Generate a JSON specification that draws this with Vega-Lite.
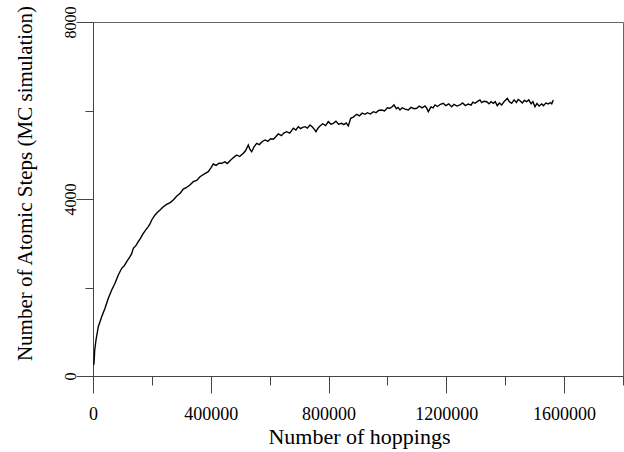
{
  "$schema": "https://vega.github.io/schema/vega-lite/v6.json",
  "width": 530,
  "height": 354,
  "autosize": {"type": "none"},
  "padding": {"left": 93, "top": 22, "right": 1, "bottom": 76},
  "background": "white",
  "config": {
    "view": {"stroke": "#666", "strokeWidth": 1},
    "font": "Liberation Serif"
  },
  "data": {
    "values": [
      {"h":2000,"s":250},{"h":3400,"s":290},{"h":5800,"s":588},{"h":10200,"s":814},{"h":18000,"s":1114},{"h":29500,"s":1340},{"h":40800,"s":1530},{"h":52000,"s":1756},{"h":63500,"s":1944},{"h":74700,"s":2095},{"h":85900,"s":2283},{"h":97500,"s":2434},{"h":106000,"s":2490},{"h":114500,"s":2583},{"h":125700,"s":2696},{"h":131000,"s":2760},{"h":136900,"s":2886},{"h":145000,"s":2940},{"h":153800,"s":3035},{"h":162000,"s":3120},{"h":170800,"s":3225},{"h":178000,"s":3290},{"h":187800,"s":3374},{"h":193000,"s":3430},{"h":199400,"s":3526},{"h":210600,"s":3639},{"h":219000,"s":3700},{"h":227500,"s":3752},{"h":238800,"s":3826},{"h":250000,"s":3880},{"h":262000,"s":3920},{"h":272700,"s":3978},{"h":284000,"s":4060},{"h":296000,"s":4130},{"h":306700,"s":4226},{"h":318000,"s":4260},{"h":330000,"s":4320},{"h":340600,"s":4391},{"h":352000,"s":4420},{"h":363400,"s":4504},{"h":377000,"s":4560},{"h":391600,"s":4617},{"h":400000,"s":4700},{"h":408600,"s":4791},{"h":418000,"s":4760},{"h":428000,"s":4810},{"h":437100,"s":4807},{"h":448000,"s":4840},{"h":456000,"s":4800},{"h":465300,"s":4866},{"h":476000,"s":4930},{"h":488000,"s":4995},{"h":498000,"s":4960},{"h":510500,"s":5033},{"h":518000,"s":5090},{"h":527400,"s":5221},{"h":533000,"s":5120},{"h":539000,"s":5069},{"h":547000,"s":5180},{"h":556000,"s":5259},{"h":565000,"s":5230},{"h":575000,"s":5300},{"h":584200,"s":5334},{"h":594000,"s":5300},{"h":603000,"s":5360},{"h":612300,"s":5349},{"h":620000,"s":5400},{"h":629300,"s":5469},{"h":640000,"s":5430},{"h":648000,"s":5490},{"h":657800,"s":5521},{"h":668000,"s":5490},{"h":680300,"s":5598},{"h":689000,"s":5560},{"h":697300,"s":5634},{"h":705000,"s":5590},{"h":712000,"s":5620},{"h":720000,"s":5634},{"h":728000,"s":5600},{"h":737000,"s":5673},{"h":746000,"s":5620},{"h":751000,"s":5580},{"h":757400,"s":5521},{"h":764000,"s":5600},{"h":770900,"s":5650},{"h":780000,"s":5700},{"h":790000,"s":5660},{"h":799100,"s":5747},{"h":808000,"s":5690},{"h":816100,"s":5711},{"h":825000,"s":5760},{"h":834000,"s":5690},{"h":844600,"s":5711},{"h":852000,"s":5680},{"h":860000,"s":5720},{"h":867000,"s":5650},{"h":875200,"s":5824},{"h":884000,"s":5850},{"h":895600,"s":5914},{"h":905000,"s":5880},{"h":914000,"s":5940},{"h":923800,"s":5914},{"h":932000,"s":5950},{"h":942000,"s":5920},{"h":952000,"s":5973},{"h":961000,"s":5950},{"h":970000,"s":6000},{"h":980500,"s":6012},{"h":990000,"s":5990},{"h":1000000,"s":6060},{"h":1008700,"s":6050},{"h":1015000,"s":6080},{"h":1022300,"s":6125},{"h":1030000,"s":6040},{"h":1036000,"s":6070},{"h":1042600,"s":6012},{"h":1050000,"s":6060},{"h":1060000,"s":6030},{"h":1070800,"s":6012},{"h":1080000,"s":6070},{"h":1090000,"s":6040},{"h":1099400,"s":6050},{"h":1108000,"s":6100},{"h":1118000,"s":6060},{"h":1127500,"s":6102},{"h":1133000,"s":6060},{"h":1138800,"s":5973},{"h":1148000,"s":6080},{"h":1155000,"s":6060},{"h":1161500,"s":6125},{"h":1170000,"s":6090},{"h":1180000,"s":6140},{"h":1189700,"s":6163},{"h":1198000,"s":6110},{"h":1208000,"s":6150},{"h":1218200,"s":6086},{"h":1226000,"s":6140},{"h":1236000,"s":6100},{"h":1246400,"s":6125},{"h":1255000,"s":6170},{"h":1265000,"s":6110},{"h":1274600,"s":6147},{"h":1284000,"s":6120},{"h":1290000,"s":6190},{"h":1297400,"s":6163},{"h":1305000,"s":6200},{"h":1314300,"s":6238},{"h":1320000,"s":6180},{"h":1328000,"s":6210},{"h":1337100,"s":6199},{"h":1345000,"s":6150},{"h":1352000,"s":6200},{"h":1359500,"s":6163},{"h":1366000,"s":6200},{"h":1373000,"s":6110},{"h":1380000,"s":6170},{"h":1388000,"s":6125},{"h":1396000,"s":6200},{"h":1407000,"s":6276},{"h":1414000,"s":6200},{"h":1422000,"s":6163},{"h":1430000,"s":6240},{"h":1438000,"s":6180},{"h":1444000,"s":6250},{"h":1450200,"s":6222},{"h":1458000,"s":6170},{"h":1465000,"s":6230},{"h":1472900,"s":6199},{"h":1480000,"s":6240},{"h":1488000,"s":6150},{"h":1494000,"s":6200},{"h":1501100,"s":6086},{"h":1508000,"s":6160},{"h":1515000,"s":6100},{"h":1523900,"s":6147},{"h":1530000,"s":6110},{"h":1538000,"s":6170},{"h":1546300,"s":6147},{"h":1553000,"s":6180},{"h":1558000,"s":6150},{"h":1563300,"s":6238}
    ]
  },
  "mark": {"type": "line", "color": "black", "strokeWidth": 1.4},
  "encoding": {
    "x": {
      "field": "h",
      "type": "quantitative",
      "scale": {"domain": [0, 1800000], "nice": false, "zero": false},
      "axis": {
        "title": "Number of hoppings",
        "titleFont": "Liberation Serif",
        "titleFontSize": 22,
        "titleFontWeight": "normal",
        "titleColor": "black",
        "titleX": 266,
        "titleY": 67,
        "titleAlign": "center",
        "titleBaseline": "alphabetic",
        "values": [0, 200000, 400000, 600000, 800000, 1000000, 1200000, 1400000, 1600000, 1800000],
        "labelExpr": "datum.value % 400000 === 0 ? format(datum.value, 'd') : ''",
        "labelFont": "Liberation Serif",
        "labelFontSize": 18,
        "labelColor": "black",
        "labelBaseline": "alphabetic",
        "labelPadding": 26,
        "labelFlush": false,
        "labelOverlap": false,
        "labelBound": false,
        "tickSize": {"condition": {"test": "datum.value % 400000 === 0", "value": 17}, "value": 9},
        "tickColor": "#444",
        "domainColor": "#444",
        "grid": false
      }
    },
    "y": {
      "field": "s",
      "type": "quantitative",
      "scale": {"domain": [0, 8000], "nice": false},
      "axis": {
        "title": "Number of Atomic Steps (MC simulation)",
        "titleFont": "Liberation Serif",
        "titleFontSize": 21,
        "titleFontWeight": "normal",
        "titleColor": "black",
        "titleAngle": -90,
        "titleX": -68,
        "titleY": 161,
        "titleAlign": "center",
        "titleBaseline": "middle",
        "values": [0, 2000, 4000, 6000, 8000],
        "labelExpr": "datum.value % 4000 === 0 ? format(datum.value, 'd') : ''",
        "labelFont": "Liberation Serif",
        "labelFontSize": 16,
        "labelColor": "black",
        "labelAngle": -90,
        "labelAlign": "center",
        "labelBaseline": "alphabetic",
        "labelPadding": 1,
        "labelFlush": false,
        "labelOverlap": false,
        "labelBound": false,
        "tickSize": {"condition": {"test": "datum.value % 4000 === 0", "value": 17}, "value": 8},
        "tickColor": "#444",
        "domainColor": "#444",
        "grid": false
      }
    }
  }
}
